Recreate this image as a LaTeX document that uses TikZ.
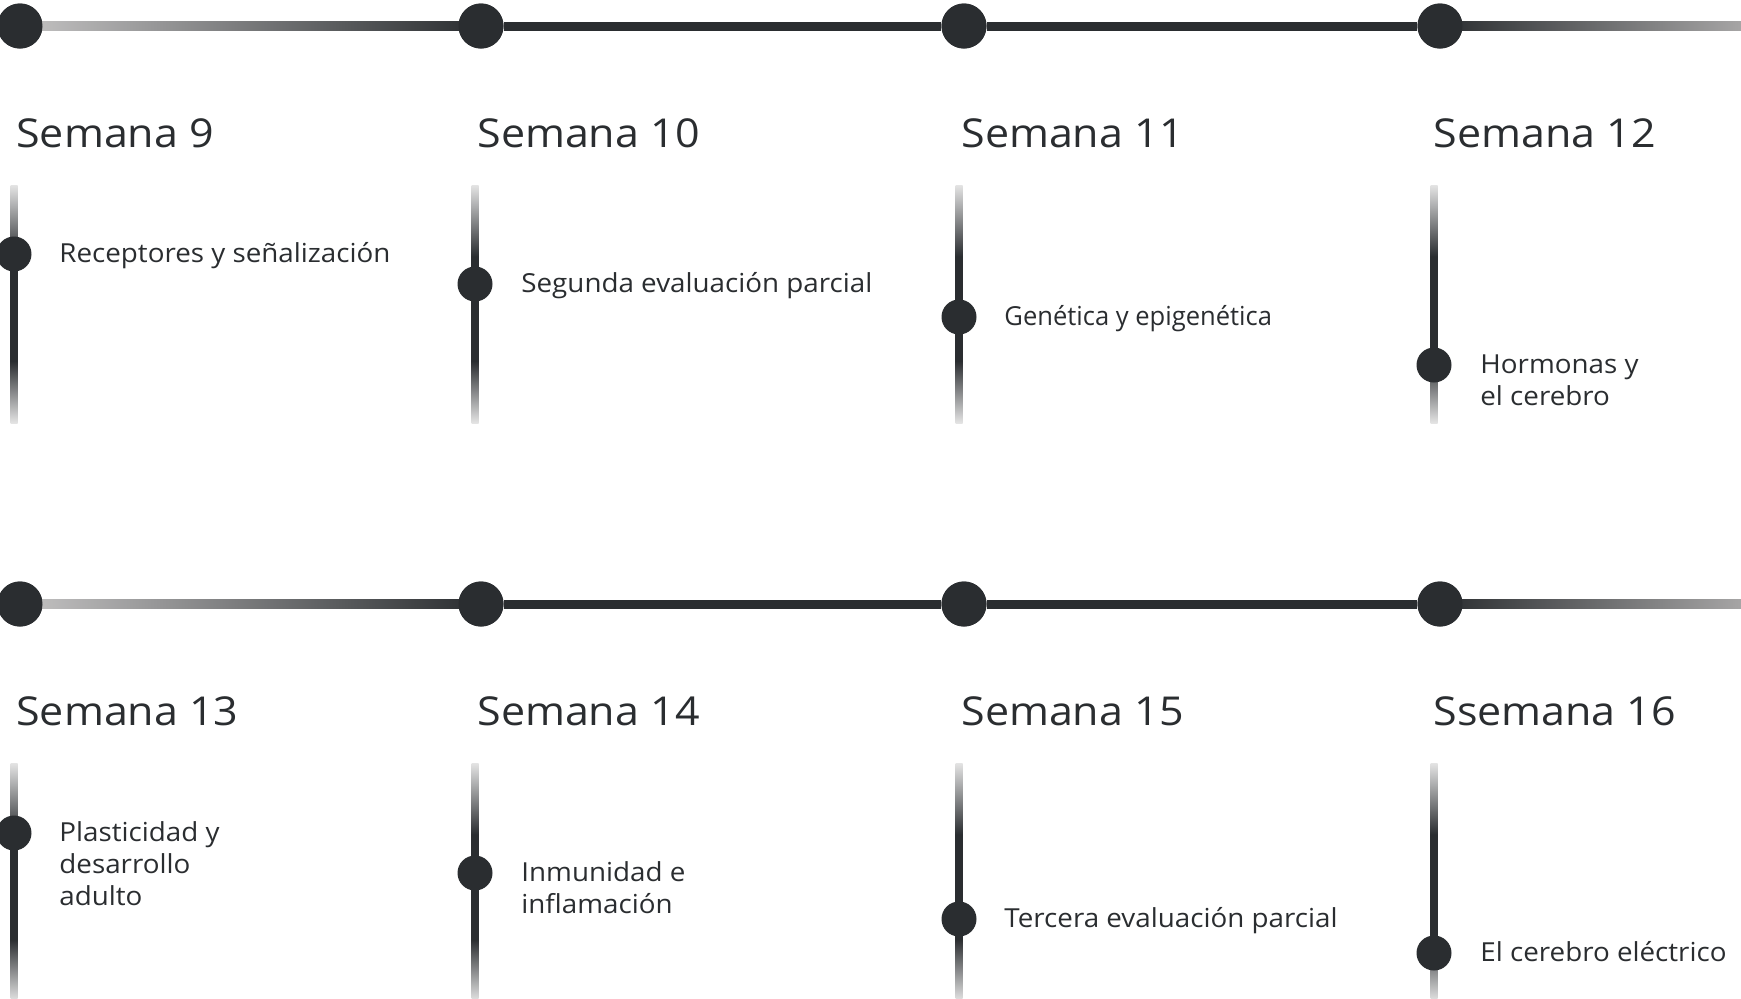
\documentclass[tikz,border=0pt]{standalone}
\usepackage{fontspec}
\setmainfont{Open Sans}
\newfontfamily\headfont{Open Sans}[FakeStretch=1.08]
\newfontfamily\lblfont{Open Sans}[FakeStretch=1.06]
\usetikzlibrary{calc}
\definecolor{dk}{HTML}{2A2D30}
\definecolor{fadec}{HTML}{E4E4E4}
\definecolor{hl}{HTML}{C4C3C3}
\definecolor{hr}{HTML}{A6A5A5}
\pgfdeclareverticalshading{vfade}{100bp}{color(0bp)=(fadec); color(25bp)=(fadec); color(38bp)=(dk); color(60bp)=(dk); color(75bp)=(fadec); color(100bp)=(fadec)}
\tikzset{
  hdot/.style={circle, fill=dk, minimum size=22.5pt, inner sep=0pt},
  vdot/.style={circle, fill=dk, minimum size=17.5pt, inner sep=0pt},
  hline/.style={draw=dk, line width=4.5pt},
  heading/.style={anchor=base west, inner sep=0pt, text=dk, font=\headfont\fontsize{19.9pt}{24pt}\selectfont},
  lbl/.style={anchor=base west, inner sep=0pt, text=dk, align=left, font=\lblfont\fontsize{13.1pt}{16pt}\selectfont},
}
\begin{document}
\begin{tikzpicture}[x=0.5pt,y=-0.5pt]
\useasboundingbox (0,0) rectangle (1741,998);
\foreach \r/\oy in {a/0,b/578}{
  \coordinate (\r end) at (1741,26+\oy);
  \node[hdot] (\r h1) at (20,26+\oy) {};
  \node[hdot] (\r h2) at (481,26+\oy) {};
  \node[hdot] (\r h3) at (964,26+\oy) {};
  \node[hdot] (\r h4) at (1440,26+\oy) {};
  \shade[left color=hl, right color=dk] ($(\r h1)+(0,-4.5)$) rectangle ($(\r h2)+(0,4.5)$);
  \shade[left color=dk, right color=hr] ($(\r h4)+(0,-4.5)$) rectangle ($(\r end)+(0,4.5)$);
  \draw[hline] (\r h2) -- (\r h3);
  \draw[hline] (\r h3) -- (\r h4);
  \node[hdot] at (\r h1) {};
  \node[hdot] at (\r h2) {};
  \node[hdot] at (\r h3) {};
  \node[hdot] at (\r h4) {};
  \foreach \i/\x in {1/14,2/475,3/959,4/1434}{
    \coordinate (\r v\i t) at (\x,185+\oy);
    \coordinate (\r v\i b) at (\x,423+\oy);
    \shade[shading=vfade] ($(\r v\i t)+(-3.5,0)$) rectangle ($(\r v\i b)+(3.5,0)$);
  }
}
% headings
\node[heading] (s9) at (16,147) {Semana 9};
\node[heading] (s10) at (477,147) {Semana 10};
\node[heading] (s11) at (961,147) {Semana 11};
\node[heading] (s12) at (1433,147) {Semana 12};
\node[heading] (s13) at (16,725) {Semana 13};
\node[heading] (s14) at (477,725) {Semana 14};
\node[heading] (s15) at (961,725) {Semana 15};
\node[heading] (s16) at (1433,725) {Ssemana 16};
% dots on verticals
\node[vdot] (d9) at (14,254) {};
\node[vdot] (d10) at (475,284) {};
\node[vdot] (d11) at (959,317) {};
\node[vdot] (d12) at (1434,365) {};
\node[vdot] (d13) at (14,833) {};
\node[vdot] (d14) at (475,873) {};
\node[vdot] (d15) at (959,919) {};
\node[vdot] (d16) at (1434,953) {};
% labels (base anchor = last line baseline)
\node[lbl] (t9) at (59,262.7) {Receptores y señalización};
\node[lbl] (t10) at (521,292.7) {Segunda evaluación parcial};
\node[lbl] (t11) at (1004,325.7) {\scalebox{0.92}[1]{Genética y epigenética}};
\node[lbl] (t12) at (1480,405.7) {Hormonas y\\el cerebro};
\node[lbl] (t13) at (59,905.7) {Plasticidad y\\desarrollo\\adulto};
\node[lbl] (t14) at (521,913.7) {Inmunidad e\\inflamación};
\node[lbl] (t15) at (1004,927.7) {Tercera evaluación parcial};
\node[lbl] (t16) at (1480,961.7) {El cerebro eléctrico};
\end{tikzpicture}
\end{document}
